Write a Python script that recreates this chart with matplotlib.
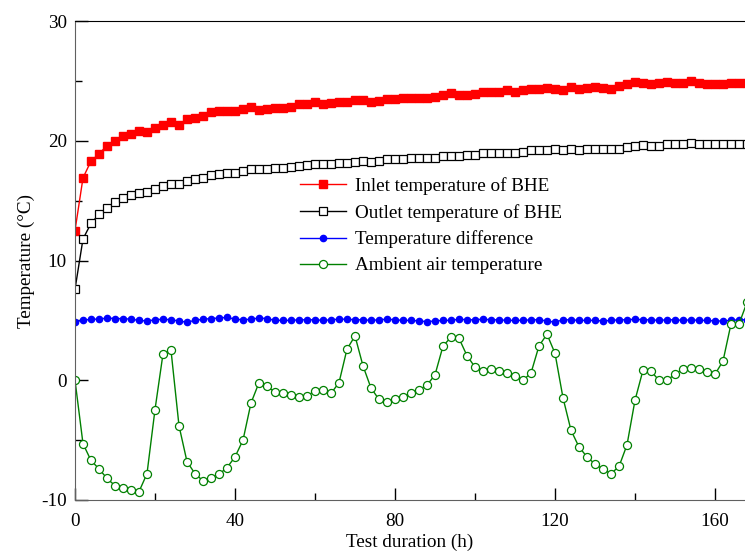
import numpy as np
import matplotlib
matplotlib.use('Agg')
import matplotlib.pyplot as plt
from matplotlib.ticker import MultipleLocator

# test duration (h), one reading every 2 h
hours = np.arange(0, 169, 2)

inlet = [12.5, 16.9, 18.3, 18.9, 19.6, 20.0, 20.4, 20.6, 20.8, 20.75,
         21.1, 21.35, 21.55, 21.35, 21.8, 21.9, 22.1, 22.4, 22.45, 22.45,
         22.45, 22.65, 22.8, 22.6, 22.65, 22.7, 22.7, 22.8, 23.05, 23.1,
         23.2, 23.05, 23.15, 23.2, 23.25, 23.4, 23.4, 23.25, 23.35, 23.5,
         23.5, 23.6, 23.6, 23.6, 23.55, 23.65, 23.8, 23.95, 23.85, 23.85,
         23.9, 24.1, 24.1, 24.05, 24.2, 24.05, 24.2, 24.35, 24.35, 24.4,
         24.35, 24.2, 24.5, 24.35, 24.4, 24.45, 24.4, 24.3, 24.55, 24.7,
         24.9, 24.85, 24.75, 24.8, 24.9, 24.8, 24.85, 24.95, 24.85, 24.7,
         24.7, 24.75, 24.8, 24.8, 24.8]

outlet = [7.6, 11.8, 13.1, 13.85, 14.4, 14.85, 15.2, 15.45, 15.65, 15.7,
          16.0, 16.25, 16.4, 16.4, 16.65, 16.8, 16.9, 17.1, 17.25, 17.3,
          17.3, 17.45, 17.6, 17.6, 17.6, 17.7, 17.7, 17.8, 17.9, 18.0,
          18.05, 18.05, 18.1, 18.15, 18.15, 18.2, 18.3, 18.25, 18.3, 18.45,
          18.45, 18.5, 18.55, 18.55, 18.55, 18.6, 18.7, 18.75, 18.75, 18.8,
          18.8, 18.95, 18.95, 18.95, 19.0, 19.0, 19.1, 19.2, 19.25, 19.25,
          19.3, 19.25, 19.35, 19.25, 19.3, 19.35, 19.35, 19.35, 19.35, 19.5,
          19.6, 19.65, 19.6, 19.6, 19.7, 19.7, 19.75, 19.8, 19.7, 19.7,
          19.7, 19.7, 19.7, 19.7, 19.7]

difference = [4.9, 5.0, 5.1, 5.1, 5.2, 5.15, 5.15, 5.1, 5.0, 4.95,
              5.05, 5.1, 5.05, 4.95, 4.85, 5.0, 5.1, 5.15, 5.2, 5.25,
              5.1, 5.05, 5.1, 5.2, 5.15, 5.0, 5.0, 5.0, 5.05, 5.05,
              5.05, 5.0, 5.05, 5.1, 5.1, 5.05, 5.05, 5.0, 5.05, 5.1,
              5.05, 5.0, 5.0, 4.95, 4.9, 4.95, 5.0, 5.0, 5.1, 5.05,
              5.05, 5.1, 5.05, 5.05, 5.0, 5.0, 5.0, 5.05, 5.05, 4.95,
              4.85, 5.05, 5.05, 5.0, 5.0, 5.0, 4.95, 5.0, 5.05, 5.05,
              5.1, 5.05, 5.05, 5.0, 5.05, 5.05, 5.0, 5.05, 5.0, 5.0,
              4.95, 4.95, 5.0, 5.05, 5.05]

ambient = [0.0, -5.3, -6.7, -7.4, -8.2, -8.8, -9.0, -9.2, -9.3, -7.8,
           -2.45, 2.2, 2.5, -3.8, -6.8, -7.8, -8.4, -8.15, -7.85, -7.3,
           -6.4, -5.0, -1.9, -0.2, -0.5, -1.0, -1.05, -1.2, -1.4, -1.3,
           -0.9, -0.8, -1.1, -0.2, 2.6, 3.7, 1.2, -0.65, -1.6, -1.85,
           -1.6, -1.4, -1.1, -0.8, -0.4, 0.45, 2.85, 3.6, 3.5, 2.05,
           1.1, 0.8, 0.9, 0.8, 0.62, 0.38, 0.0, 0.6, 2.87, 3.84,
           2.25, -1.47, -4.18, -5.57, -6.4, -7.0, -7.43, -7.8, -7.2, -5.4,
           -1.67, 0.84, 0.75, 0.0, 0.0, 0.5, 0.95, 1.0, 0.95, 0.7,
           0.5, 1.6, 4.7, 4.7, 6.5]

plt.rcParams['font.family'] = ['Liberation Serif', 'DejaVu Serif']
plt.rcParams['font.size'] = 13.8
plt.rcParams['axes.unicode_minus'] = False

fig = plt.figure(figsize=(7.45, 5.53), dpi=100)
ax = fig.add_axes([75 / 745, 53 / 553, 1 - 75 / 745, 479 / 553])

ax.plot(hours, inlet, '-s', color='#ff0000', lw=1, ms=5.2, mfc='#ff0000',
        mec='#ff0000', label='Inlet temperature of BHE')
ax.plot(hours, outlet, '-s', color='black', lw=1, ms=5.2, mfc='white',
        mec='black', mew=0.9, label='Outlet temperature of BHE')
ax.plot(hours, difference, '-o', color='#0000ff', lw=1, ms=4.5, mfc='#0000ff',
        mec='#0000ff', label='Temperature difference')
ax.plot(hours, ambient, '-o', color='#008000', lw=1, ms=5.8, mfc='white',
        mec='#008000', mew=0.9, label='Ambient air temperature')

ax.set_xlim(0, 167.5)
ax.set_ylim(-10, 30)
ax.xaxis.set_major_locator(MultipleLocator(40))
ax.xaxis.set_minor_locator(MultipleLocator(20))
ax.yaxis.set_major_locator(MultipleLocator(10))
ax.yaxis.set_minor_locator(MultipleLocator(5))
ax.tick_params(which='both', direction='in', top=False, right=False)
ax.tick_params(which='major', length=9, width=1)
ax.tick_params(which='minor', length=5, width=1)
ax.tick_params(axis='x', pad=9)
ax.tick_params(axis='y', pad=6)

ax.spines['right'].set_visible(False)
for side in ['left', 'bottom']:
    ax.spines[side].set_color('#606060')
ax.spines['top'].set_color('black')

ax.set_xlabel('Test duration (h)', labelpad=3)
ax.set_ylabel('Temperature (\u00b0C)', labelpad=4)

ax.legend(loc='upper left', bbox_to_anchor=(300 / 745, 1 - 177 / 553),
          bbox_transform=fig.transFigure, frameon=False, borderpad=0,
          borderaxespad=0, handlelength=2.4, handletextpad=0.45,
          labelspacing=0.46, fontsize=13.8)

fig.savefig('out.png', dpi=100)
